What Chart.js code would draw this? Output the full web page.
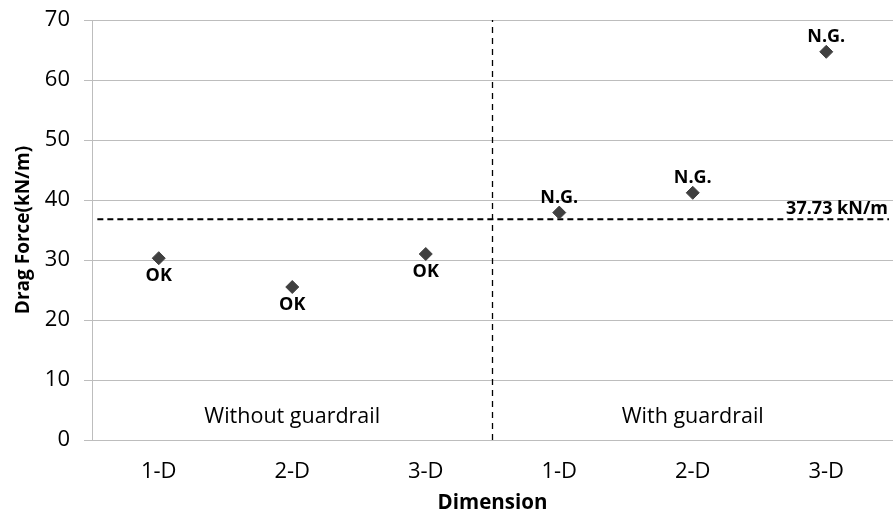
<!DOCTYPE html>
<html>
<head>
<meta charset="utf-8">
<script src="https://cdn.jsdelivr.net/npm/chart.js@4"></script>
<style>
  html, body { margin: 0; padding: 0; background: #fff; }
  #wrap { width: 893px; height: 512px; }
</style>
</head>
<body>
<div id="wrap"><canvas id="dragChart"></canvas></div>
<script>
  // Dados do gráfico
  const categories = ['1-D', '2-D', '3-D', '1-D', '2-D', '3-D'];
  const dragForce = [30.3, 25.5, 31.0, 37.9, 41.2, 64.7];
  const status = ['OK', 'OK', 'OK', 'N.G.', 'N.G.', 'N.G.'];
  const yTicks = [0, 10, 20, 30, 40, 50, 60, 70];
  const limitValue = 36.8;
  const limitLabel = '37.73 kN/m';
  const groups = ['Without guardrail', 'With guardrail'];
  const groupCenters = [2, 5];
  const groupSplit = 3.5;

  const FONT = '"Open Sans", "Noto Sans", sans-serif';
  const GRID = '#bdbdbd';

  // Rótulos de texto (OK / N.G., limite, grupos)
  const labelPlugin = {
    id: 'labels',
    afterDatasetsDraw(chart) {
      const ctx = chart.ctx;
      const x = chart.scales.x, y = chart.scales.y;
      const meta = chart.getDatasetMeta(0);
      ctx.save();
      ctx.fillStyle = '#000';
      ctx.textAlign = 'center';
      ctx.textBaseline = 'alphabetic';
      ctx.font = 'bold 18px ' + FONT;
      meta.data.forEach((pt, i) => {
        if (status[i] === 'OK') {
          ctx.fillText(status[i], pt.x, pt.y + 23);
        } else {
          ctx.fillText(status[i], pt.x, pt.y - 10);
        }
      });
      ctx.textAlign = 'right';
      ctx.fillText(limitLabel, x.getPixelForValue(6.5) - 5, y.getPixelForValue(limitValue) - 5);

      ctx.font = '21.5px ' + FONT;
      ctx.textAlign = 'center';
      groups.forEach((g, i) => {
        ctx.fillText(g, x.getPixelForValue(groupCenters[i]), y.getPixelForValue(2.8));
      });
      ctx.restore();
    }
  };

  const config = {
    type: 'scatter',
    data: {
      datasets: [{
        label: 'Drag Force',
        data: dragForce.map((v, i) => ({ x: i + 1, y: v })),
        pointStyle: 'rectRot',
        pointRadius: 6.5,
        pointHoverRadius: 6.5,
        backgroundColor: '#404040',
        borderColor: '#404040',
        borderWidth: 1
      }, {
        label: 'Limite',
        type: 'line',
        data: [{ x: 0.54, y: limitValue }, { x: 6.47, y: limitValue }],
        borderColor: '#000',
        borderWidth: 2,
        borderDash: [6, 4],
        pointRadius: 0,
        fill: false
      }, {
        label: 'Divisão',
        type: 'line',
        data: [{ x: groupSplit, y: 0 }, { x: groupSplit, y: 70 }],
        borderColor: '#000',
        borderWidth: 1.3,
        borderDash: [6, 5],
        pointRadius: 0,
        fill: false
      }]
    },
    options: {
      responsive: true,
      maintainAspectRatio: false,
      animation: false,
      layout: { autoPadding: false, padding: { top: 20, right: 0, left: 0, bottom: 0 } },
      plugins: {
        legend: { display: false },
        tooltip: { enabled: false }
      },
      scales: {
        x: {
          type: 'linear',
          min: 0.5,
          max: 6.5,
          afterBuildTicks: s => { s.ticks = categories.map((c, i) => ({ value: i + 1 })); },
          afterFit: s => { s.height = 72; s.paddingLeft = 0; s.paddingRight = 0; },
          ticks: {
            callback: v => categories[v - 1],
            color: '#000',
            font: { family: FONT, size: 22 },
            padding: 11,
            maxRotation: 0
          },
          grid: { display: false },
          border: { display: true, color: GRID, width: 1 },
          title: {
            display: true,
            text: 'Dimension',
            color: '#000',
            font: { family: FONT, size: 20.5, weight: 'bold' },
            padding: { top: 0, bottom: -3 }
          }
        },
        y: {
          min: 0,
          max: 70,
          afterBuildTicks: s => { s.ticks = yTicks.map(v => ({ value: v })); },
          afterFit: s => { s.width = 92; s.paddingTop = 0; s.paddingBottom = 0; },
          ticks: {
            color: '#000',
            font: { family: FONT, size: 22 },
            padding: 14
          },
          grid: { color: GRID, lineWidth: 1, tickLength: 8 },
          border: { display: true, color: GRID, width: 1 },
          title: {
            display: true,
            text: 'Drag Force(kN/m)',
            color: '#000',
            font: { family: FONT, size: 19, weight: 'bold' },
            padding: { top: 12, bottom: 0 }
          }
        }
      }
    },
    plugins: [labelPlugin]
  };

  new Chart(document.getElementById('dragChart'), config);
</script>
</body>
</html>
